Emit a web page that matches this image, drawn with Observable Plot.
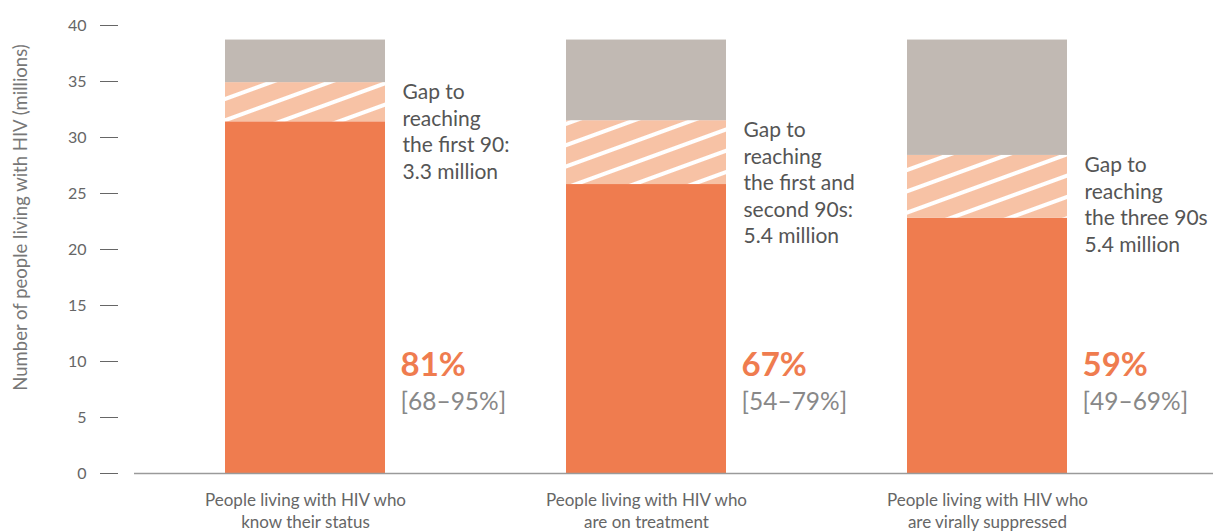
<!DOCTYPE html>
<html>
<head>
<meta charset="utf-8">
<script src="https://cdn.jsdelivr.net/npm/d3@7"></script>
<script src="https://cdn.jsdelivr.net/npm/@observablehq/plot@0.6"></script>
<style>
  html, body { margin: 0; padding: 0; background: #fff; }
  #chart { width: 1213px; height: 532px; overflow: hidden; }
</style>
</head>
<body>
<div id="chart"></div>
<script>
const categories = [
  "People living with HIV who\nknow their status",
  "People living with HIV who\nare on treatment",
  "People living with HIV who\nare virally suppressed"
];
const achieved = [31.4, 25.8, 22.8];
const targets = [34.9, 31.5, 28.4];
const totalPLHIV = [38.7, 38.7, 38.7];
const percentLabels = ["81%", "67%", "59%"];
const rangeLabels = ["[68–95%]", "[54–79%]", "[49–69%]"];
const gapLabels = [
  "Gap to\nreaching\nthe first 90:\n3.3 million",
  "Gap to\nreaching\nthe first and\nsecond 90s:\n5.4 million",
  "Gap to\nreaching\nthe three 90s\n5.4 million"
];
const yTicks = [0, 5, 10, 15, 20, 25, 30, 35, 40];
const yTitle = "Number of people living with HIV (millions)";

const table = categories.map((cat, i) => ({
  cat,
  achieved: achieved[i],
  target: targets[i],
  total: totalPLHIV[i],
  pct: percentLabels[i],
  range: rangeLabels[i],
  gap: gapLabels[i]
}));

const ORANGE = "#EF7C4F";
const GREY = "#C1B9B3";
const FONT = "Lato, 'Open Sans', sans-serif";

const chart = Plot.plot({
  width: 1213,
  height: 532,
  marginLeft: 134,
  marginRight: 0,
  marginTop: 25,
  marginBottom: 59,
  style: { fontFamily: FONT, background: "#fff" },
  x: { domain: categories, range: [134, 1158.5], paddingInner: 0.531, paddingOuter: 0.2655, label: null },
  y: { domain: [0, 40], label: null },
  marks: [
    Plot.barY(table, { x: "cat", y1: 0, y2: "achieved", fill: ORANGE }),
    Plot.barY(table, { x: "cat", y1: "achieved", y2: "target", fill: "url(#hatch)" }),
    Plot.barY(table, { x: "cat", y1: "target", y2: "total", fill: GREY }),
    Plot.ruleY([0], { stroke: "#9a9a9a", strokeWidth: 1.5 }),
    Plot.axisY(yTicks, { anchor: "left", tickSize: 18, tickPadding: 14, dx: -16, fontSize: 16, color: "#666", label: null }),
    Plot.axisX({ tickSize: 0, tickPadding: 17, fontSize: 17, lineHeight: 1.3, color: "#666", label: null }),
    Plot.text([yTitle], { frameAnchor: "left", textAnchor: "middle", lineAnchor: "middle", rotate: -90, dx: -113, dy: -32, fontSize: 18.5, fill: "#777" }),
    Plot.text(table, { x: "cat", y: "target", text: "gap", textAnchor: "start", lineAnchor: "top", dx: 97, dy: -2, fontSize: 21, lineHeight: 1.26, fill: "#555" }),
    Plot.text(table, { x: "cat", text: "pct", frameAnchor: "bottom", textAnchor: "start", lineAnchor: "middle", dx: 95, dy: -108, fontSize: 33, fontWeight: 700, fill: ORANGE }),
    Plot.text(table, { x: "cat", text: "range", frameAnchor: "bottom", textAnchor: "start", lineAnchor: "middle", dx: 95, dy: -71, fontSize: 24.5, fill: "#888" })
  ]
});

const NS = "http://www.w3.org/2000/svg";
const defs = document.createElementNS(NS, "defs");
const pattern = document.createElementNS(NS, "pattern");
pattern.setAttribute("id", "hatch");
pattern.setAttribute("patternUnits", "userSpaceOnUse");
pattern.setAttribute("width", "20");
pattern.setAttribute("height", "20");
pattern.setAttribute("patternTransform", "rotate(-20)");
const bg = document.createElementNS(NS, "rect");
bg.setAttribute("width", "20");
bg.setAttribute("height", "20");
bg.setAttribute("fill", "#F7C2A5");
const stripe = document.createElementNS(NS, "line");
stripe.setAttribute("x1", "-5");
stripe.setAttribute("x2", "25");
stripe.setAttribute("y1", "10");
stripe.setAttribute("y2", "10");
stripe.setAttribute("stroke", "#fff");
stripe.setAttribute("stroke-width", "4");
pattern.appendChild(bg);
pattern.appendChild(stripe);
defs.appendChild(pattern);
const svgEl = chart.tagName.toLowerCase() === "svg" ? chart : chart.querySelector("svg");
svgEl.insertBefore(defs, svgEl.firstChild);

document.getElementById("chart").appendChild(chart);
</script>
</body>
</html>
